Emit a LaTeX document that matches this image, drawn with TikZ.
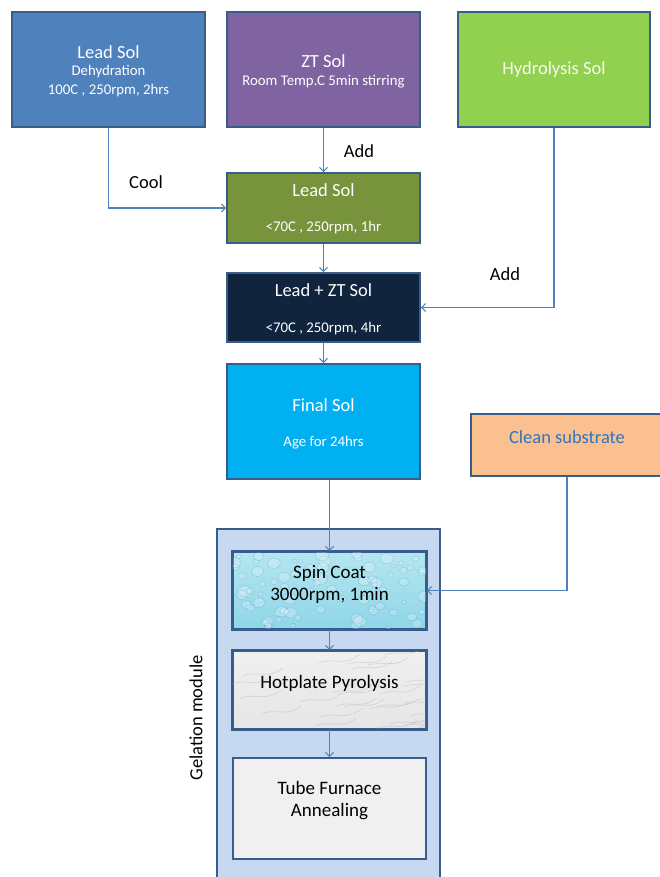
\documentclass[tikz,border=0pt]{standalone}
\usepackage{fontspec}
\setmainfont{Carlito}
\usetikzlibrary{arrows.meta,calc}
\definecolor{bordc}{HTML}{385D8A}
\definecolor{linec}{HTML}{4F81BD}
\definecolor{cBlue}{HTML}{4F81BD}
\definecolor{cPurple}{HTML}{8064A2}
\definecolor{cLime}{HTML}{92D050}
\definecolor{cOlive}{HTML}{77933C}
\definecolor{cNavy}{HTML}{10243E}
\definecolor{cCyan}{HTML}{00B0F0}
\definecolor{cPeach}{HTML}{FAC090}
\definecolor{cPale}{HTML}{C6D9F1}
\definecolor{cTextBlue}{HTML}{2E75C0}
\definecolor{cDropT}{HTML}{B4E6F0}
\definecolor{cDropB}{HTML}{8FD6E8}
\tikzset{
  box/.style={draw=bordc, line width=1.8pt, rectangle, inner sep=0pt},
  conn/.style={draw=linec, line width=1.1pt, -{Straight Barb[length=4pt,width=8pt,line width=1pt]}},
  title/.style={text=white, font=\fontsize{18.5}{20}\selectfont, inner sep=0pt, anchor=center},
  sub/.style={text=white, font=\fontsize{14.8}{16}\selectfont, inner sep=0pt, anchor=center},
  lbl/.style={text=black, font=\fontsize{18.5}{20}\selectfont, inner sep=0pt, anchor=center},
  dark/.style={text=black, font=\fontsize{19}{21}\selectfont, inner sep=0pt, anchor=center}
}
\begin{document}
\begin{tikzpicture}[x=1pt,y=-1pt]
\useasboundingbox (0,0) rectangle (659,877);
% container
\fill[cPale] (217,529) rectangle (440,880);
\draw[bordc, line width=1.8pt] (217,880) -- (217,529) -- (440,529) -- (440,880);
\node (cont) at (328.5,703) {};
% top boxes
\node[box, fill=cBlue, minimum width=193pt, minimum height=115pt] (leadA) at (108.5,69.5) {};
\node[title] (leadAt) at (108.5,52) {Lead Sol};
\node[sub] (leadAs1) at (108.5,72) {Dehydration};
\node[sub] (leadAs2) at (108.5,91) {100C , 250rpm, 2hrs};

\node[box, fill=cPurple, minimum width=193pt, minimum height=115pt] (zt) at (323.5,69.5) {};
\node[title] (ztt) at (323.5,61) {ZT Sol};
\node[sub] (zts) at (323.5,82) {Room Temp.C 5min stirring};

\node[box, fill=cLime, minimum width=192pt, minimum height=115pt] (hyd) at (554,69.5) {};
\node[title, text=white!92!cLime] (hydt) at (554,70) {Hydrolysis Sol};

% middle
\node[box, fill=cOlive, minimum width=193pt, minimum height=70pt] (leadB) at (323.5,208) {};
\node[title] (leadBt) at (323.5,190) {Lead Sol};
\node[sub] (leadBs) at (323.5,228) {<70C , 250rpm, 1hr};

\node[box, fill=cNavy, minimum width=193pt, minimum height=69pt] (lzt) at (323.5,307.5) {};
\node[title] (lztt) at (323.5,290) {Lead + ZT Sol};
\node[sub] (lzts) at (323.5,329) {<70C , 250rpm, 4hr};

\node[box, fill=cCyan, minimum width=193pt, minimum height=115pt] (final) at (323.5,421.5) {};
\node[title] (finalt) at (323.5,405) {Final Sol};
\node[sub] (finals) at (323.5,443) {Age for 24hrs};

\node[box, fill=cPeach, minimum width=192pt, minimum height=62pt] (clean) at (567,445) {};
\node[title, text=cTextBlue] (cleant) at (567,437) {Clean substrate};

% gelation boxes
\node[box, minimum width=193pt, minimum height=77pt, top color=cDropT, bottom color=cDropB] (spin) at (329.5,590.5) {};
\begin{scope}
  \clip (spin.south west) rectangle (spin.north east);
  \pgfmathsetseed{7}
  \foreach \i in {1,...,80}{
    \pgfmathsetmacro\xx{235+rnd*190}
    \pgfmathsetmacro\yy{553+rnd*75}
    \pgfmathsetmacro\rr{2+rnd*5}
    \fill[white, opacity=0.22] (\xx,\yy) ellipse ({\rr pt} and {0.8*\rr pt});
    \draw[cyan!50!blue, opacity=0.22, line width=0.5pt] (\xx,\yy) ellipse ({\rr pt} and {0.8*\rr pt});
  }
\end{scope}
\draw[bordc, line width=1.8pt] (spin.south west) rectangle (spin.north east);
\node[dark] (spint1) at (329.5,573) {Spin Coat};
\node[dark] (spint2) at (329.5,595) {3000rpm, 1min};

\node[box, minimum width=193pt, minimum height=78pt, top color=gray!12, bottom color=gray!20] (hot) at (329.5,690) {};
\begin{scope}
  \clip (hot.south west) rectangle (hot.north east);
  \pgfmathsetseed{3}
  \foreach \i in {1,...,30}{
    \pgfmathsetmacro\xx{225+rnd*200}
    \pgfmathsetmacro\yy{650+rnd*80}
    \draw[gray!55, opacity=0.45, line width=0.7pt] (\xx,\yy) .. controls ({\xx+15},{\yy-6}) and ({\xx+25},{\yy+4}) .. ({\xx+40},{\yy-8});
  }
\end{scope}
\draw[bordc, line width=1.8pt] (hot.south west) rectangle (hot.north east);
\node[dark] (hott) at (329.5,683) {Hotplate Pyrolysis};

\node[box, fill=gray!12, minimum width=193pt, minimum height=101pt] (tube) at (329.5,808.5) {};
\node[dark] (tubet1) at (329.5,788) {Tube Furnace};
\node[dark] (tubet2) at (329.5,812) {Annealing};

\node[lbl, rotate=90] (gel) at (196,718) {Gelation module};

% connectors
\draw[conn] (leadA.south) |- (leadB.west);
\node[lbl] (cool) at (146,182) {Cool};
\draw[conn] (zt.south) -- (leadB.north);
\node[lbl] (add1) at (359,151) {Add};
\draw[conn] (hyd.south) |- (lzt.east);
\node[lbl] (add2) at (505,274) {Add};
\draw[conn] (leadB.south) -- (lzt.north);
\draw[conn] (lzt.south) -- (final.north);
\draw[conn] (spin.north |- final.south) -- (spin.north);
\draw[conn] (clean.south) |- (spin.east);
\draw[conn] (spin.south) -- (hot.north);
\draw[conn] (hot.south) -- (tube.north);
\end{tikzpicture}
\end{document}
